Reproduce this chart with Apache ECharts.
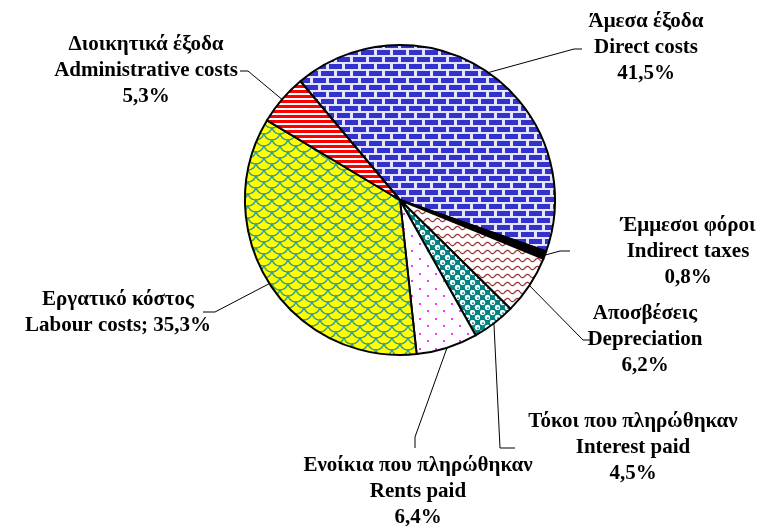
<!DOCTYPE html>
<html>
<head>
<meta charset="utf-8">
<script src="https://cdn.jsdelivr.net/npm/echarts@6/dist/echarts.min.js"></script>
<style>
  html, body { margin: 0; padding: 0; background: #fff; }
  #chart { width: 771px; height: 526px; }
</style>
</head>
<body>
<div id="chart"></div>
<script>
// 数据（顺时针，从"Άμεσα έξοδα"开始）
var greekNames = ['Άμεσα έξοδα', 'Έμμεσοι φόροι', 'Αποσβέσεις', 'Τόκοι που πληρώθηκαν',
  'Ενοίκια που πληρώθηκαν', 'Εργατικό κόστος', 'Διοικητικά έξοδα']
var englishNames = ['Direct costs', 'Indirect taxes', 'Depreciation', 'Interest paid',
  'Rents paid', 'Labour costs', 'Administrative costs']
var shares = [41.5, 0.8, 6.2, 4.5, 6.4, 35.3, 5.3]
var valueSep = ['\n', '\n', '\n', '\n', '\n', '; ', '\n']

// 标签位置（中心点）和引导线的拐点/终点
var labelBox = [[646, 48], [688, 252], [645, 340], [633, 448], [418, 492], [118, 313], [146, 71]]
var lineBend = [[574, 49], [560, 251], [583, 340], [500, 448], [415, 437], [215, 312], [248, 71]]
var lineEnd = [[582, 49], [570, 251], [592, 340], [515, 448], [415, 448], [203, 312], [240, 71]]

function makeTile (w, h, draw) {
  var c = document.createElement('canvas')
  c.width = w
  c.height = h
  var ctx = c.getContext('2d')
  draw(ctx, w, h)
  return { image: c, repeat: 'repeat' }
}

// 砖块 - 直接费用
var brickFill = makeTile(16, 14, function (ctx, w, h) {
  ctx.fillStyle = '#e4e4ff'
  ctx.fillRect(0, 0, w, h)
  ctx.fillStyle = '#3333cc'
  ctx.fillRect(1, 1, 13, 5)
  ctx.fillRect(9, 8, 13, 5)
  ctx.fillRect(-7, 8, 13, 5)
})
// 横条纹 - 管理费用
var stripeFill = makeTile(4, 5, function (ctx, w, h) {
  ctx.fillStyle = '#ffffff'
  ctx.fillRect(0, 0, w, h)
  ctx.fillStyle = '#ff0000'
  ctx.fillRect(0, 0, w, 3)
})
// 鱼鳞 - 人工成本
var scaleFill = makeTile(16, 12, function (ctx, w, h) {
  ctx.fillStyle = '#ffff00'
  ctx.fillRect(0, 0, w, h)
  ctx.strokeStyle = '#2e9a96'
  ctx.lineWidth = 1.4
  var pts = [[0, 0], [16, 0], [8, 6], [0, 12], [16, 12], [8, -6]]
  pts.forEach(function (p) {
    ctx.beginPath()
    ctx.arc(p[0], p[1], 8, 0.2, Math.PI - 0.2)
    ctx.stroke()
  })
})
// 波浪 - 折旧
var waveFill = makeTile(10, 8, function (ctx, w, h) {
  ctx.fillStyle = '#ffffff'
  ctx.fillRect(0, 0, w, h)
  ctx.strokeStyle = '#993333'
  ctx.lineWidth = 1.3
  ctx.beginPath()
  for (var x = 0; x <= w; x += 0.5) {
    var y = 4 + 1.6 * Math.sin(2 * Math.PI * x / w)
    if (x === 0) ctx.moveTo(x, y)
    else ctx.lineTo(x, y)
  }
  ctx.stroke()
})
// 圆圈 - 利息
var circleFill = makeTile(10, 10, function (ctx, w, h) {
  ctx.fillStyle = '#008080'
  ctx.fillRect(0, 0, w, h)
  ctx.fillStyle = '#ffffff'
  ;[[2.5, 2.5], [7.5, 7.5]].forEach(function (p) {
    ctx.beginPath()
    ctx.arc(p[0], p[1], 2.7, 0, Math.PI * 2)
    ctx.fill()
  })
  ctx.fillStyle = '#008080'
  ;[[3, 3.2], [8, 8.2]].forEach(function (p) {
    ctx.beginPath()
    ctx.arc(p[0], p[1], 0.9, 0, Math.PI * 2)
    ctx.fill()
  })
})
// 点 - 租金
var dotFill = makeTile(16, 15, function (ctx, w, h) {
  ctx.fillStyle = '#ffffff'
  ctx.fillRect(0, 0, w, h)
  ctx.fillStyle = '#ff33ff'
  ctx.fillRect(3, 3, 2, 2)
  ctx.fillRect(11, 10, 2, 2)
})

var fills = [brickFill, '#000000', waveFill, circleFill, dotFill, scaleFill, stripeFill]

var chart = echarts.init(document.getElementById('chart'))
var option = {
  backgroundColor: '#ffffff',
  animation: false,
  series: [
    {
      type: 'pie',
      center: [400, 200],
      radius: 155,
      startAngle: 130,
      clockwise: true,
      data: shares.map(function (v, i) {
        return {
          name: englishNames[i],
          value: v,
          itemStyle: { color: fills[i] }
        }
      }),
      itemStyle: {
        borderColor: '#000',
        borderWidth: 2
      },
      emphasis: { disabled: true },
      label: {
        show: true,
        position: 'outside',
        fontFamily: 'Liberation Serif',
        fontWeight: 'bold',
        fontSize: 21,
        lineHeight: 26,
        color: '#000',
        align: 'center',
        formatter: function (p) {
          var i = p.dataIndex
          return greekNames[i] + '\n' + englishNames[i] + valueSep[i] +
            shares[i].toFixed(1).replace('.', ',') + '%'
        }
      },
      labelLine: {
        show: true,
        length: 10,
        length2: 10,
        lineStyle: { color: '#000', width: 1 }
      },
      labelLayout: function (params) {
        var i = params.dataIndex
        var start = params.labelLinePoints ? params.labelLinePoints[0] : lineBend[i]
        return {
          x: labelBox[i][0],
          y: labelBox[i][1],
          align: 'center',
          verticalAlign: 'middle',
          labelLinePoints: [start, lineBend[i], lineEnd[i]]
        }
      }
    }
  ]
}
chart.setOption(option)
</script>
</body>
</html>
